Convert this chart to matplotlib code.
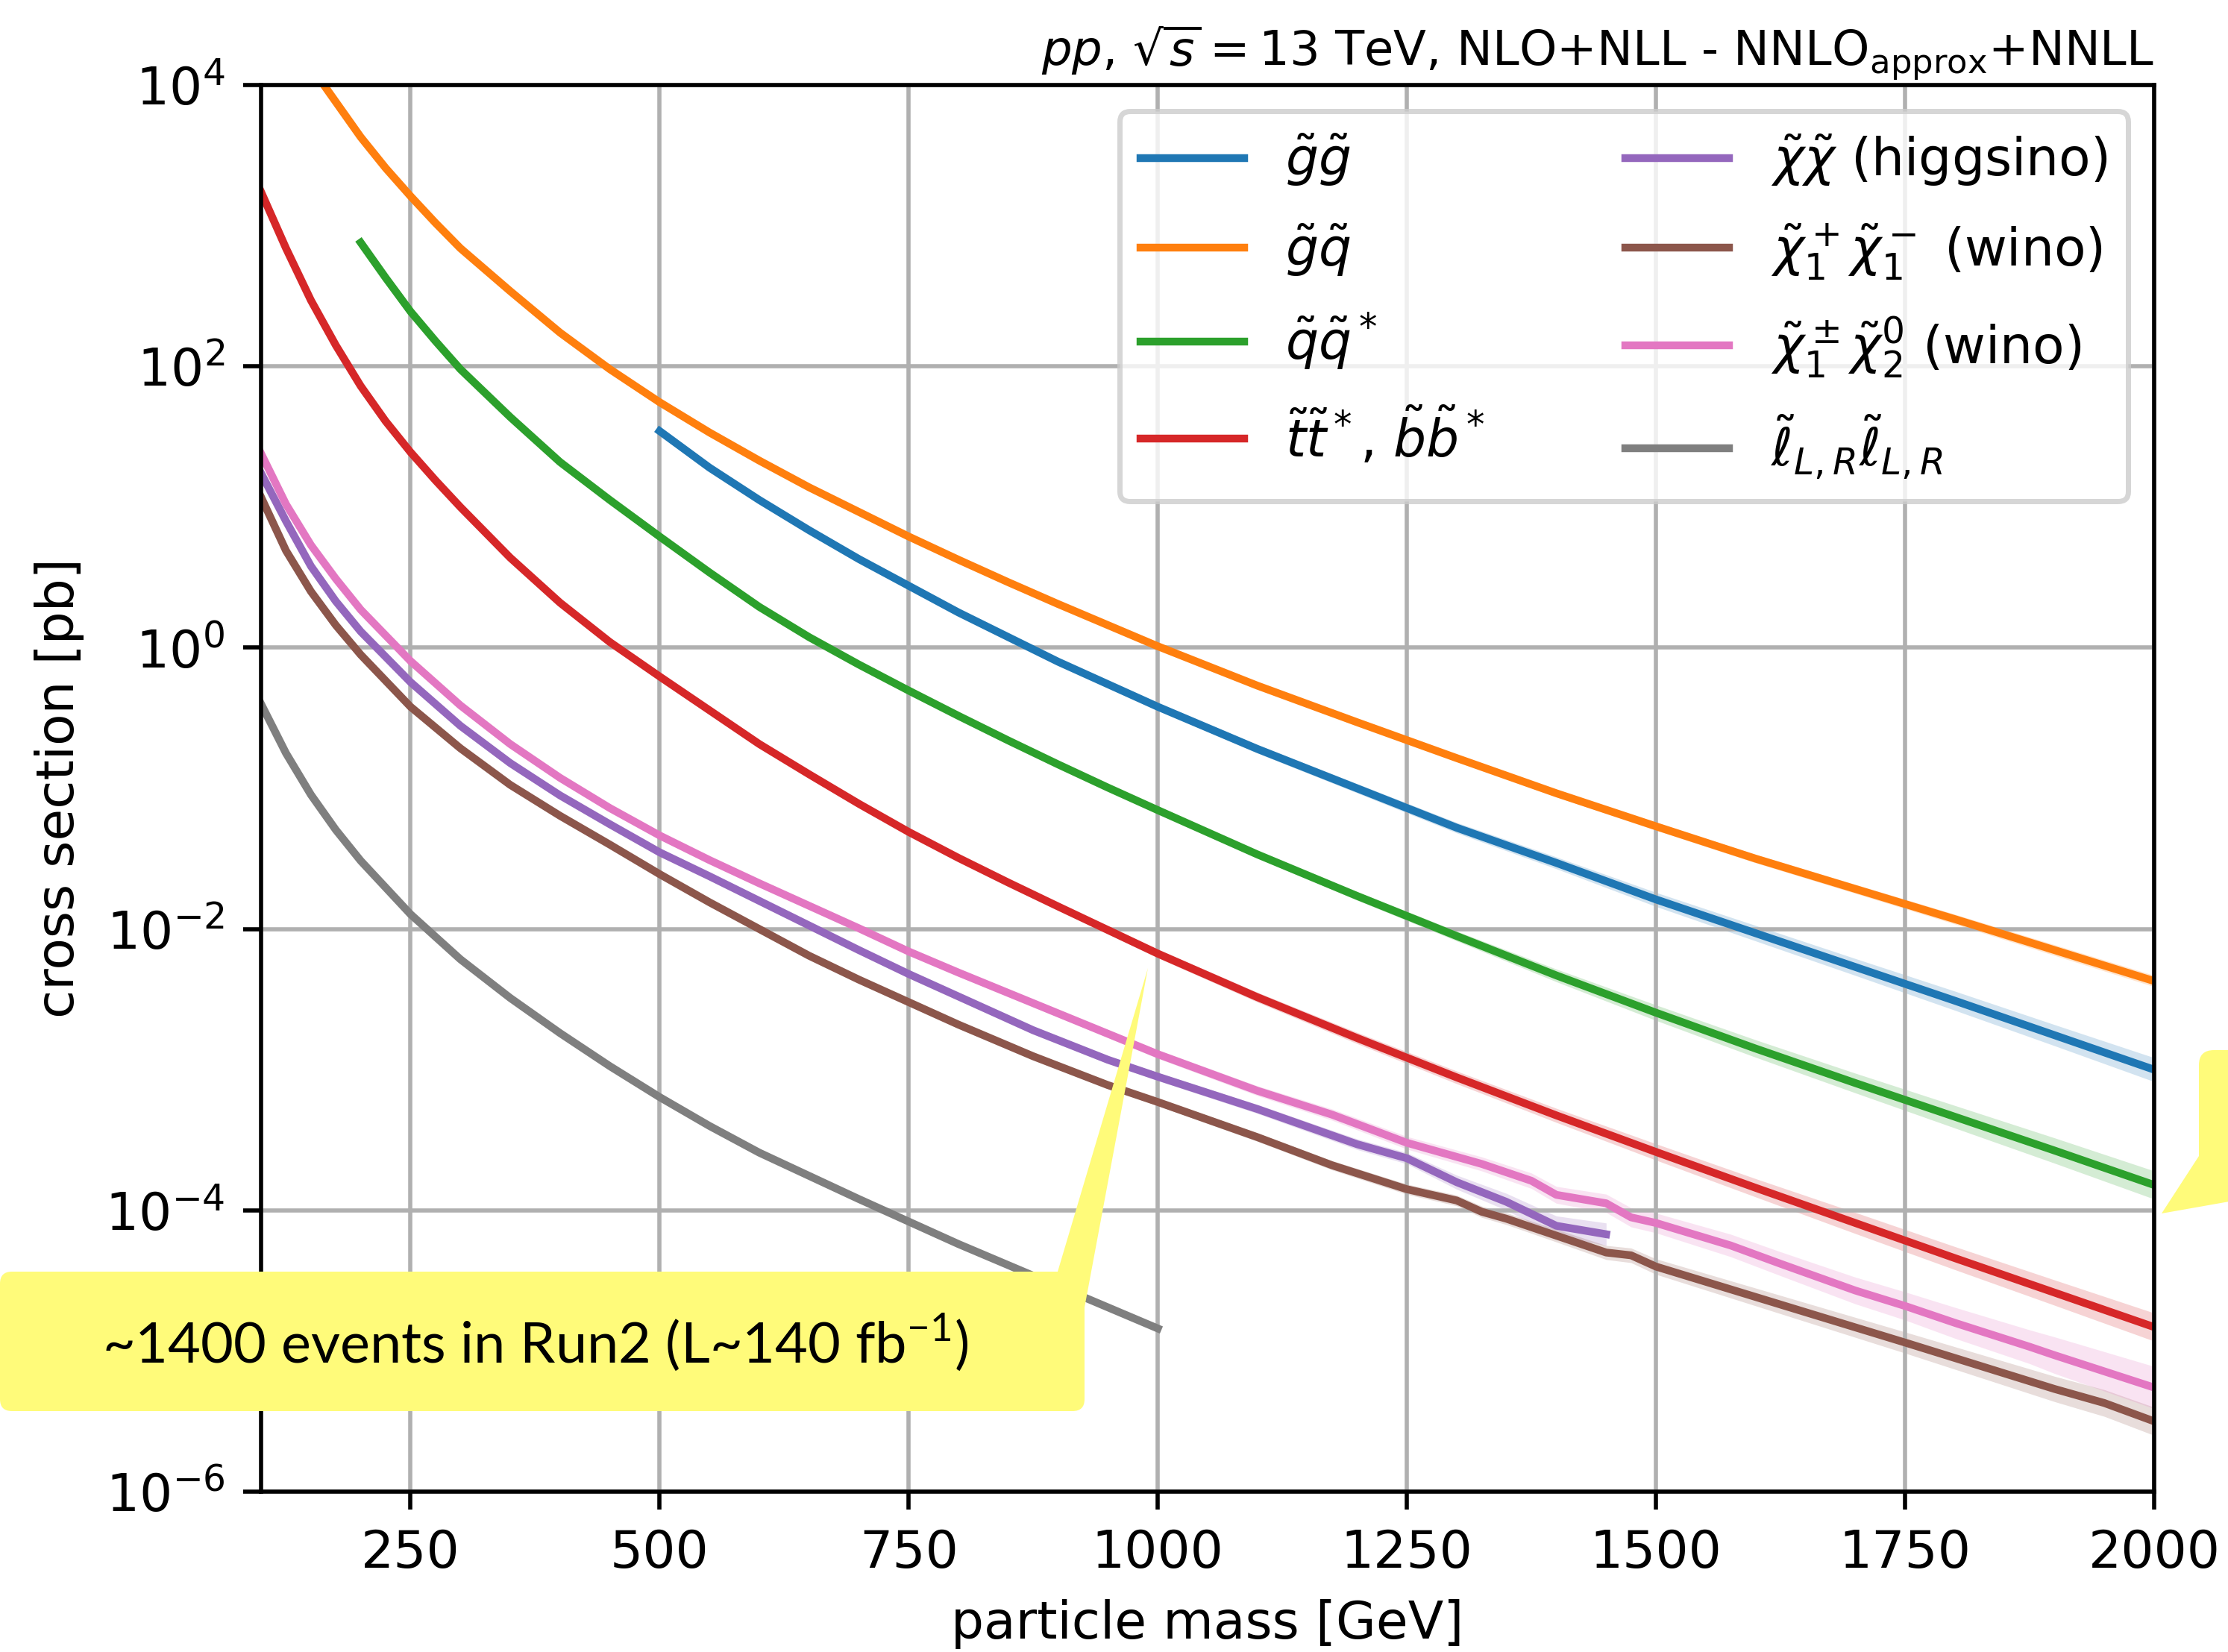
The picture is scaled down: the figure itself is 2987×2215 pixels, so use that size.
import numpy as np
import matplotlib
matplotlib.use("Agg")
import matplotlib.pyplot as plt
from matplotlib.path import Path
from matplotlib.patches import PathPatch
from matplotlib.transforms import IdentityTransform

# cross sections, stored as log10(sigma / pb)
gq_mass = [150, 175, 200, 225, 250, 275, 300, 350, 400, 450, 500, 550, 600, 650, 700, 750, 800, 850, 900, 950,
           1000, 1100, 1200, 1300, 1400, 1500, 1600, 1700, 1800, 1900, 2000]
gq_log = [4.13, 3.88, 3.63, 3.41, 3.21, 3.02, 2.84, 2.535, 2.24, 1.98, 1.745, 1.53, 1.33, 1.14, 0.965, 0.79, 0.625, 0.465, 0.31, 0.16,
          0.01, -0.27, -0.53, -0.785, -1.035, -1.27, -1.50, -1.715, -1.93, -2.15, -2.37]
gq_unc = [0.01] * 16 + [0.011, 0.012, 0.013, 0.014, 0.015, 0.018, 0.02, 0.022, 0.025, 0.028, 0.03, 0.032, 0.035, 0.038, 0.04]

gg_mass = [500, 550, 600, 650, 700, 800, 900, 1000, 1100, 1200, 1300, 1400, 1500, 1600, 1700, 1800, 1900, 2000]
gg_log = [1.54, 1.28, 1.05, 0.835, 0.63, 0.25, -0.10, -0.42, -0.72, -1.00, -1.28, -1.53, -1.79, -2.03, -2.27, -2.51, -2.755, -3.00]
gg_unc = [0.01, 0.01, 0.012, 0.013, 0.015, 0.018, 0.02, 0.025, 0.03, 0.033, 0.037, 0.042, 0.05, 0.055, 0.06, 0.068, 0.075, 0.085]

qq_mass = [200, 225, 250, 275, 300, 350, 400, 450, 500, 550, 600, 650, 700, 750, 800, 850, 900, 950, 1000,
           1100, 1200, 1300, 1400, 1500, 1600, 1700, 1800, 1900, 2000]
qq_log = [2.88, 2.63, 2.39, 2.18, 1.98, 1.64, 1.32, 1.05, 0.79, 0.535, 0.29, 0.075, -0.12, -0.305, -0.485, -0.66, -0.83, -0.995, -1.155,
          -1.47, -1.765, -2.05, -2.33, -2.595, -2.85, -3.095, -3.335, -3.575, -3.82]
qq_unc = [0.01] * 12 + [0.011, 0.012, 0.013, 0.014, 0.015, 0.017, 0.02,
                        0.025, 0.03, 0.035, 0.045, 0.055, 0.062, 0.07, 0.08, 0.09, 0.1]

tt_mass = [100, 125, 150, 175, 200, 225, 250, 275, 300, 350, 400, 450, 500, 550, 600, 650, 700, 750, 800, 850, 900, 1000,
           1100, 1200, 1300, 1400, 1500, 1600, 1700, 1800, 1900, 2000]
tt_log = [3.24, 2.84, 2.47, 2.15, 1.86, 1.61, 1.39, 1.19, 1.00, 0.64, 0.32, 0.04, -0.205, -0.445, -0.685, -0.90, -1.11, -1.31, -1.495, -1.67, -1.84, -2.175,
          -2.485, -2.775, -3.055, -3.325, -3.585, -3.84, -4.09, -4.34, -4.585, -4.83]
tt_unc = [0.01] * 13 + [0.011, 0.012, 0.014, 0.016, 0.018, 0.02, 0.022, 0.025, 0.03,
                        0.035, 0.04, 0.045, 0.05, 0.058, 0.065, 0.075, 0.082, 0.09, 0.1]

hh_mass = [100, 125, 150, 175, 200, 250, 300, 350, 400, 450, 500, 550, 600, 650, 700, 750, 800, 875, 950, 1000,
           1100, 1200, 1250, 1300, 1350, 1400, 1450]
hh_log = [1.24, 0.90, 0.58, 0.33, 0.115, -0.245, -0.555, -0.82, -1.05, -1.255, -1.455, -1.625, -1.80, -1.975, -2.15, -2.32, -2.48, -2.72, -2.93, -3.05,
          -3.28, -3.53, -3.63, -3.80, -3.94, -4.11, -4.17]
hh_unc = [0.01] * 13 + [0.012, 0.014, 0.016, 0.018, 0.02, 0.024, 0.028,
                        0.032, 0.038, 0.04, 0.05, 0.06, 0.07, 0.08]

c1c1_mass = [100, 125, 150, 175, 200, 250, 300, 350, 400, 450, 500, 550, 600, 650, 700, 750, 800, 875, 950, 1000,
             1100, 1175, 1250, 1275, 1300, 1325, 1350, 1400, 1450, 1475, 1500, 1625, 1750, 1900, 1950, 2000]
c1c1_log = [1.07, 0.69, 0.40, 0.16, -0.05, -0.42, -0.715, -0.975, -1.195, -1.40, -1.61, -1.81, -2.00, -2.19, -2.36, -2.52, -2.68, -2.905, -3.11, -3.23,
            -3.48, -3.68, -3.85, -3.89, -3.93, -4.01, -4.06, -4.18, -4.30, -4.32, -4.40, -4.67, -4.94, -5.27, -5.37, -5.50]
c1c1_unc = [0.01] * 13 + [0.012, 0.014, 0.016, 0.018, 0.02, 0.022, 0.026, 0.03,
                          0.033, 0.036, 0.037, 0.038, 0.04, 0.042, 0.045, 0.05, 0.052, 0.055, 0.065, 0.075, 0.09, 0.095, 0.1]

c1n2_mass = [100, 125, 150, 175, 200, 250, 300, 350, 400, 450, 500, 550, 600, 650, 700, 750, 800, 850, 900, 950, 1000, 1100,
             1175, 1250, 1325, 1375, 1400, 1450, 1475, 1500, 1575, 1625, 1700, 1750, 1800, 1875, 1900, 2000]
c1n2_log = [1.38, 1.02, 0.73, 0.49, 0.27, -0.095, -0.41, -0.685, -0.925, -1.14, -1.335, -1.51, -1.675, -1.835, -1.995, -2.16, -2.31, -2.455, -2.60, -2.745, -2.89, -3.15,
            -3.32, -3.52, -3.67, -3.79, -3.89, -3.95, -4.05, -4.09, -4.25, -4.38, -4.57, -4.68, -4.80, -4.97, -5.03, -5.26]
c1n2_unc = [0.01] * 12 + [0.012, 0.014, 0.016, 0.018, 0.02, 0.022, 0.025, 0.028, 0.03, 0.035,
                          0.04, 0.045, 0.05, 0.055, 0.06, 0.065, 0.068, 0.07, 0.08, 0.085, 0.095, 0.1, 0.11, 0.12, 0.13, 0.15]

ll_mass = [100, 125, 150, 175, 200, 250, 300, 350, 400, 450, 500, 550, 600, 700, 750, 800, 900, 1000]
ll_log = [-0.40, -0.75, -1.045, -1.295, -1.515, -1.895, -2.215, -2.49, -2.74, -2.975, -3.195, -3.40, -3.59, -3.92, -4.08, -4.24, -4.54, -4.84]
ll_unc = [0.01] * 18

labels = [r'$\tilde{g}\tilde{g}$', r'$\tilde{g}\tilde{q}$', r'$\tilde{q}\tilde{q}^*$',
          r'$\tilde{t}\tilde{t}^*$, $\tilde{b}\tilde{b}^*$',
          r'$\tilde{\chi}\tilde{\chi}$ (higgsino)', r'$\tilde{\chi}_1^+\tilde{\chi}_1^-$ (wino)',
          r'$\tilde{\chi}_1^\pm\tilde{\chi}_2^0$ (wino)', r'$\tilde{\ell}_{L,R}\tilde{\ell}_{L,R}$']

series = [(gg_mass, gg_log, gg_unc), (gq_mass, gq_log, gq_unc), (qq_mass, qq_log, qq_unc),
          (tt_mass, tt_log, tt_unc), (hh_mass, hh_log, hh_unc), (c1c1_mass, c1c1_log, c1c1_unc),
          (c1n2_mass, c1n2_log, c1n2_unc), (ll_mass, ll_log, ll_unc)]

callout_text = r'~1400 events in Run2 (L~140 fb$^{\mathregular{-1}}$)'

k = 1.67  # default style scaled up
plt.rcParams.update({
    'font.size': 10 * k,
    'lines.linewidth': 1.5 * k,
    'axes.linewidth': 0.8 * k,
    'grid.linewidth': 0.8 * k,
    'xtick.major.size': 3.5 * k, 'ytick.major.size': 3.5 * k,
    'xtick.major.width': 0.8 * k, 'ytick.major.width': 0.8 * k,
    'xtick.major.pad': 3.5 * k, 'ytick.major.pad': 3.5 * k,
    'axes.labelpad': 4 * k,
    'patch.linewidth': 1.0 * k,
})

W, H = 2987, 2215
fig = plt.figure(figsize=(W / 300, H / 300), dpi=300)
ax = fig.add_axes([350 / W, 1 - 2000 / H, (2888 - 350) / W, (2000 - 114) / H])

for i, ((m, lg, u), lab) in enumerate(zip(series, labels)):
    m = np.array(m)
    lg = np.array(lg)
    u = np.array(u)
    col = 'C%d' % i
    ax.fill_between(m, 10 ** (lg - u), 10 ** (lg + u), color=col, alpha=0.2, linewidth=0)
    ax.plot(m, 10 ** lg, color=col, label=lab)

ax.set_yscale('log')
ax.set_xlim(100, 2000)
ax.set_ylim(1e-6, 1e4)
ax.set_yticks([1e4, 1e2, 1e0, 1e-2, 1e-4, 1e-6])
ax.yaxis.set_minor_locator(matplotlib.ticker.NullLocator())
ax.set_xticks([250, 500, 750, 1000, 1250, 1500, 1750, 2000])
ax.grid(True, color='#b0b0b0')
ax.set_xlabel('particle mass [GeV]')
ax.set_ylabel('cross section [pb]')
ax.set_title(r'$pp$, $\sqrt{s} = 13$ TeV, NLO+NLL - NNLO$_{\rm approx}$+NNLL', loc='right', fontsize=15.4)
ax.legend(loc='upper right', ncol=2, labelspacing=0.64, columnspacing=2.7)

# yellow speech-bubble callouts pasted over the plot (pixel coords, y from top)
def P(x, y):
    return (x, H - y)

yellow = '#fffb7a'
r = 16
x0, x1, y0, y1 = 0, 1454, 1705, 1892
verts = [P(x0 + r, y0), P(1418, y0), P(1539, 1298), P(x1, 1753), P(x1, y1 - r), P(x1, y1), P(x1 - r, y1),
         P(x0 + r, y1), P(x0, y1), P(x0, y1 - r), P(x0, y0 + r), P(x0, y0), P(x0 + r, y0)]
codes = [Path.MOVETO, Path.LINETO, Path.LINETO, Path.LINETO, Path.LINETO, Path.CURVE3, Path.CURVE3,
         Path.LINETO, Path.CURVE3, Path.CURVE3, Path.LINETO, Path.CURVE3, Path.CURVE3]
fig.patches.append(PathPatch(Path(verts, codes), facecolor=yellow, edgecolor='none',
                             transform=IdentityTransform(), figure=fig, zorder=5))

r2 = 20
verts2 = [P(3000, 1408), P(2948 + r2, 1408), P(2948, 1408), P(2948, 1408 + r2), P(2948, 1550),
          P(2898, 1627), P(3000, 1609), P(3000, 1408)]
codes2 = [Path.MOVETO, Path.LINETO, Path.CURVE3, Path.CURVE3, Path.LINETO, Path.LINETO, Path.LINETO, Path.CLOSEPOLY]
fig.patches.append(PathPatch(Path(verts2, codes2), facecolor=yellow, edgecolor='none',
                             transform=IdentityTransform(), figure=fig, zorder=5))

fig.text(718 / W, 1 - 1827 / H, callout_text, ha='center', va='baseline', fontsize=18.2,
         family=['Lato', 'DejaVu Sans'], zorder=6)

fig.savefig('out.png', dpi=300)
